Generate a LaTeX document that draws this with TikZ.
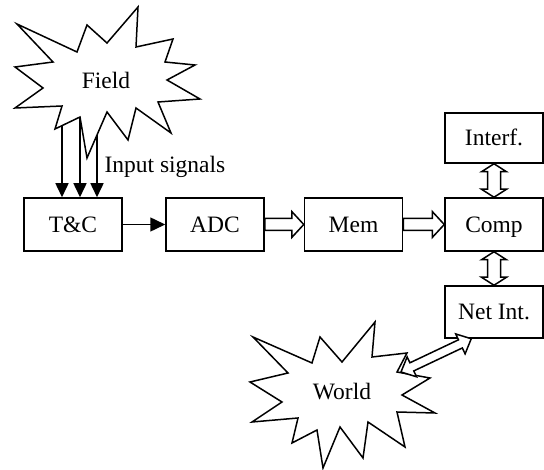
\documentclass[tikz,border=0pt]{standalone}
\usepackage{fontspec}
\setmainfont{Liberation Serif}
\usetikzlibrary{calc,arrows.meta}

\tikzset{
  every node/.style={font=\fontsize{23.5}{28}\selectfont},
  ln/.style={line width=1.5pt},
  box/.style={draw, line width=1.5pt, fill=white, minimum width=98pt,
    minimum height=53pt, inner sep=0pt, text height=15.5pt, text depth=0pt},
  burst/.style={draw, line width=1.5pt, fill=white, line join=miter},
  hollow/.style={draw, line width=1.5pt, fill=white, line join=miter},
  solidtip/.style={ln, -{Triangle[length=15pt,width=14pt]}},
  % hollow block arrow, one head: #1 head length, #2 half shaft, #3 half head
  blockone/.style n args={3}{to path={
    ($(\tikztotarget)!#1!(\tikztostart)$) coordinate (hb)
    ($(\tikztostart)!#2!-90:(\tikztotarget)$)
    -- ($(hb)!#2!90:(\tikztostart)$) -- ($(hb)!#3!90:(\tikztostart)$)
    -- (\tikztotarget)
    -- ($(hb)!#3!-90:(\tikztostart)$) -- ($(hb)!#2!-90:(\tikztostart)$)
    -- ($(\tikztostart)!#2!90:(\tikztotarget)$) -- cycle}},
  % hollow block arrow, heads at both ends
  blocktwo/.style n args={3}{to path={
    ($(\tikztostart)!#1!(\tikztotarget)$) coordinate (ha)
    ($(\tikztotarget)!#1!(\tikztostart)$) coordinate (hb)
    (\tikztostart)
    -- ($(ha)!#3!-90:(\tikztotarget)$) -- ($(ha)!#2!-90:(\tikztotarget)$)
    -- ($(hb)!#2!90:(\tikztostart)$) -- ($(hb)!#3!90:(\tikztostart)$)
    -- (\tikztotarget)
    -- ($(hb)!#3!-90:(\tikztostart)$) -- ($(hb)!#2!-90:(\tikztostart)$)
    -- ($(ha)!#2!90:(\tikztotarget)$) -- ($(ha)!#3!90:(\tikztotarget)$)
    -- cycle}},
}

\begin{document}
\begin{tikzpicture}[x=1pt,y=-1pt]
\useasboundingbox (0,0) rectangle (544,470);

% processing chain
\node[box] (tc) at (73,224.5) {T\&C};
\node[box] (adc) at (215,224.5) {ADC};
\node[box] (mem) at (353.5,224.5) {Mem};
\node[box] (comp) at (494,224.5) {Comp};
\node[box, minimum height=50pt] (interf) at (494,138) {Interf.};
\node[box, minimum height=52pt] (netint) at (494,312) {Net Int.};

% input signals coming out of the field
\coordinate (f1) at (62,110);
\coordinate (f2) at (80,110);
\coordinate (f3) at (97,110);
\draw[solidtip, -{Triangle[length=14pt,width=13pt]}] (f1) -- (f1 |- tc.north);
\draw[solidtip, -{Triangle[length=14pt,width=13pt]}] (f2) -- (f2 |- tc.north);
\draw[solidtip, -{Triangle[length=14pt,width=13pt]}] (f3) -- (f3 |- tc.north);

% field burst
\draw[burst] (17,24) -- (77,52) -- (87,25) -- (107,43) -- (138,7) -- (136,47)
  -- (173,39) -- (165,62) -- (195,65) -- (167,80) -- (200,99) -- (158,102)
  -- (171,133) -- (136,108) -- (128,140) -- (107,112) -- (87,158) -- (80,117)
  -- (55,129) -- (62,106) -- (15,108) -- (43,88) -- (15,67) -- (53,62) -- cycle;
\node (field) at (106,80) {Field};
\node[anchor=base west] (sig) at (101,173) {Input signals};

% data path
\draw[solidtip] (tc.east) -- (adc.west);
\draw[hollow] (adc.east) to[blockone={12pt}{6pt}{13pt}] (mem.west);
\draw[hollow] (mem.east) to[blockone={12pt}{6pt}{13pt}] (comp.west);
\draw[hollow] (interf.south) to[blocktwo={8pt}{6.5pt}{12.5pt}] (comp.north);
\draw[hollow] (comp.south) to[blocktwo={8pt}{6.5pt}{12.5pt}] (netint.north);

% world burst
\draw[burst] (253,337) -- (312,363) -- (320,337) -- (342,362) -- (375,322)
  -- (372,357) -- (407,353) -- (397,372) -- (430,378) -- (402,395) -- (435,413)
  -- (397,412) -- (405,447) -- (368,422) -- (363,458) -- (340,427) -- (323,468)
  -- (317,430) -- (292,443) -- (298,418) -- (252,422) -- (282,402) -- (250,382)
  -- (288,373) -- cycle;
\node (world) at (342,392) {World};

% network link
\coordinate (wtip) at (401,372);
\coordinate (ntip) at ($(netint.south west)+(27,0)$);
\draw[hollow] (wtip) to[blocktwo={12pt}{4.5pt}{11pt}] (ntip);
\end{tikzpicture}
\end{document}
